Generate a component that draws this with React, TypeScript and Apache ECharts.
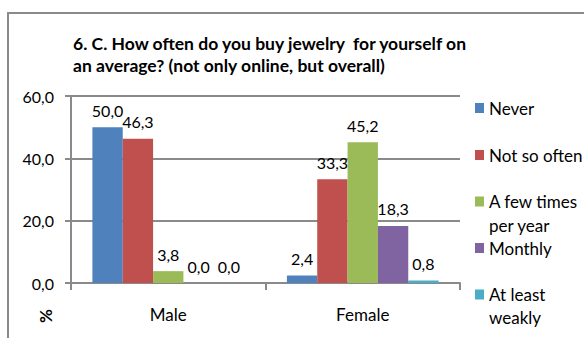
import React, { useEffect, useRef } from "react";
import * as echarts from "echarts";

const categories = ["Male", "Female"];
const seriesNames = ["Never", "Not so often", "A few times per year", "Monthly", "At least weakly"];
const legendFirstLines = ["Never", "Not so often", "A few times", "Monthly", "At least"];
const legendSecondLines = ["", "", "per year", "", "weakly"];
const never = [50.0, 2.4];
const notSoOften = [46.3, 33.3];
const fewTimes = [3.8, 45.2];
const monthly = [0.0, 18.3];
const weekly = [0.0, 0.8];
const colors = ["#4F81BD", "#C0504D", "#9BBB59", "#8064A2", "#4BACC6"];
const yTicks = { min: 0, max: 60, interval: 20 };
const titleText = "6. C. How often do you buy jewelry  for yourself on\nan average? (not only online, but overall)";

const FONT = "Lato";
const fmt = (v: number) => v.toFixed(1).replace(".", ",");

export default function App() {
  const ref = useRef<HTMLDivElement>(null);
  useEffect(() => {
    if (!ref.current) return;
    const chart = echarts.init(ref.current, undefined, { renderer: "svg" });
    const values = [never, notSoOften, fewTimes, monthly, weekly];
    const legendTops = [96.5, 143.5, 190, 236.5, 283];
    const legendLeft = 475;
    const iconW = 9;
    const textX = legendLeft + iconW + 5;
    const secondLineY = [0, 0, 225, 0, 317];
    const graphics: any[] = [
      {
        type: "rect",
        shape: { x: 8, y: 13, width: 620, height: 400 },
        style: { fill: "none", stroke: "#8a8a8a", lineWidth: 2 },
        silent: true,
      },
      {
        type: "text",
        x: 45,
        y: 316,
        rotation: Math.PI / 2,
        style: {
          text: "%",
          fontFamily: FONT,
          fontSize: 17,
          fontWeight: "bold",
          fill: "#000",
          align: "center",
          verticalAlign: "middle",
        },
      },
    ];
    legendSecondLines.forEach((t, i) => {
      if (!t) return;
      graphics.push({
        type: "text",
        x: textX,
        y: secondLineY[i],
        style: { text: t, fontFamily: FONT, fontSize: 17, fill: "#000", align: "left", verticalAlign: "middle" },
      });
    });
    chart.setOption({
      animation: false,
      backgroundColor: "#ffffff",
      textStyle: { fontFamily: FONT },
      title: {
        text: titleText,
        left: 73,
        top: 32,
        padding: 0,
        textStyle: { fontFamily: FONT, fontSize: 17.5, fontWeight: "bold", color: "#000", lineHeight: 22 },
      },
      graphic: graphics,
      legend: seriesNames.map((n, i) => ({
        data: [n],
        orient: "vertical",
        left: legendLeft,
        top: legendTops[i],
        padding: 0,
        itemWidth: iconW,
        itemHeight: 10,
        icon: "rect",
        selectedMode: false,
        formatter: () => legendFirstLines[i],
        textStyle: { fontFamily: FONT, fontSize: 17, color: "#000", lineHeight: 23 },
      })),
      grid: { left: 71, right: 124, top: 96, bottom: 55, containLabel: false },
      xAxis: {
        type: "category",
        data: categories,
        axisLine: { show: true, lineStyle: { color: "#8a8a8a", width: 2 } },
        axisTick: { show: true, length: 7, lineStyle: { color: "#8a8a8a", width: 2 } },
        axisLabel: { fontFamily: FONT, fontSize: 17, color: "#000", margin: 23 },
      },
      yAxis: {
        type: "value",
        min: yTicks.min,
        max: yTicks.max,
        interval: yTicks.interval,
        axisLine: { show: true, lineStyle: { color: "#8a8a8a", width: 2 } },
        axisTick: { show: true, length: 6, lineStyle: { color: "#8a8a8a", width: 2 } },
        splitLine: { show: true, lineStyle: { color: "#8a8a8a", width: 2 } },
        axisLabel: { fontFamily: FONT, fontSize: 16, color: "#000", margin: 17, formatter: (v: number) => fmt(v) },
      },
      series: seriesNames.map((n, i) => ({
        name: n,
        type: "bar",
        data: values[i],
        barGap: "0%",
        barCategoryGap: "22%",
        itemStyle: { color: colors[i] },
        label: {
          show: true,
          position: "top",
          distance: 9,
          fontFamily: FONT,
          fontSize: 16,
          color: "#000",
          formatter: (p: any) => fmt(p.value),
        },
      })),
    });
    return () => chart.dispose();
  }, []);
  return <div ref={ref} style={{ position: "fixed", left: 0, top: 0, width: 584, height: 338 }} />;
}
